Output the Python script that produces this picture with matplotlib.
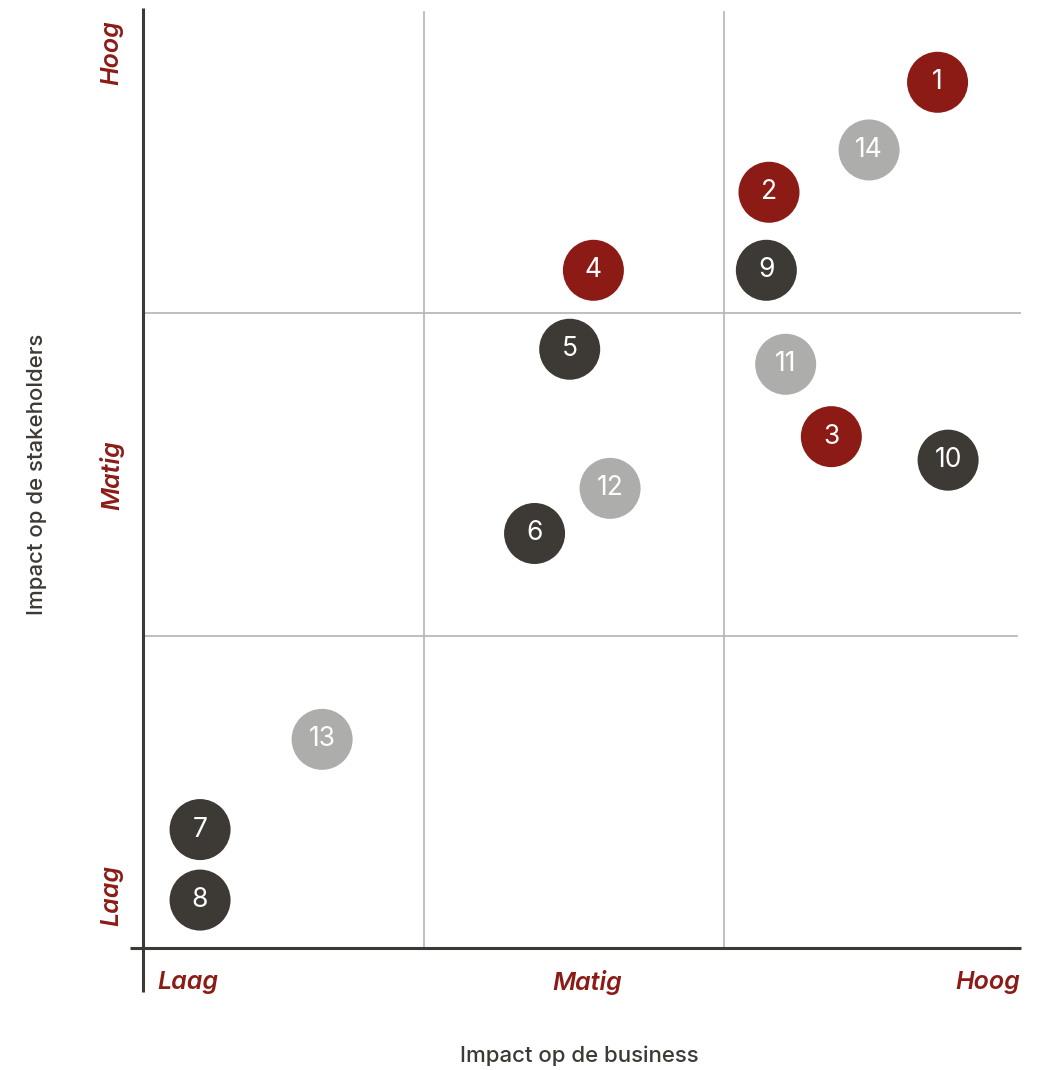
import matplotlib.pyplot as plt

plt.rcParams['font.family'] = ['Inter', 'DejaVu Sans']

# topics: impact on business (x) vs impact on stakeholders (y), scale 0-10
labels = ['1', '2', '3', '4', '5', '6', '7', '8', '9', '10', '11', '12', '13', '14']
business = [9.05, 7.13, 7.84, 5.13, 4.86, 4.46, 0.65, 0.65, 7.10, 9.17, 7.32, 5.32, 2.04, 8.27]
stakeholders = [9.21, 8.04, 5.44, 7.21, 6.37, 4.41, 1.26, 0.51, 7.21, 5.19, 6.21, 4.89, 2.22, 8.49]
groups = ['rood', 'rood', 'rood', 'rood', 'donker', 'donker', 'donker', 'donker',
          'donker', 'donker', 'grijs', 'grijs', 'grijs', 'grijs']

level_names = ['Laag', 'Matig', 'Hoog']
x_splits = [3.2, 6.62]
y_splits = [3.32, 6.76]

RED = '#8c1b16'
DARK = '#3d3935'
GREY = '#adadab'
LINE = '#b4b4b4'
colors = {'rood': RED, 'donker': DARK, 'grijs': GREY}

fig = plt.figure(figsize=(10.4, 10.7), dpi=100)
ax = fig.add_axes([0.1375, 0.114, 0.8442, 0.8785])
ax.set_xlim(0, 10)
ax.set_ylim(0, 10)
ax.axis('off')

# quadrant lines
for xs in x_splits:
    ax.plot([xs, xs], [0, 9.96], color=LINE, lw=1.2, zorder=1)
ax.plot([-0.06, 9.95], [y_splits[0], y_splits[0]], color=LINE, lw=1.2, zorder=1)
ax.plot([0, 10.02], [y_splits[1], y_splits[1]], color=LINE, lw=1.2, zorder=1)

# axes crossing past the origin
ax.plot([0, 0], [-0.47, 10], color=DARK, lw=2.2, clip_on=False, zorder=2,
        solid_capstyle='butt')
ax.plot([-0.15, 10], [0, 0], color=DARK, lw=2.2, clip_on=False, zorder=2,
        solid_capstyle='butt')

ax.scatter(business, stakeholders, s=1930, c=[colors[g] for g in groups],
           linewidths=0, zorder=3, clip_on=False)
for lab, bx, sy in zip(labels, business, stakeholders):
    ax.text(bx, sy, lab, color='white', fontsize=19, ha='center',
            va='center', zorder=4)

# level labels along both axes
lvl = dict(color=RED, fontsize=18, fontweight='semibold', fontstyle='italic')
ax.text(0.16, -0.37, level_names[0], ha='left', va='center', **lvl)
ax.text(5.06, -0.37, level_names[1], ha='center', va='center', **lvl)
ax.text(9.99, -0.37, level_names[2], ha='right', va='center', **lvl)
ax.text(-0.35, 0.56, level_names[0], rotation=90, ha='center', va='center', **lvl)
ax.text(-0.35, 5.03, level_names[1], rotation=90, ha='center', va='center', **lvl)
ax.text(-0.35, 9.53, level_names[2], rotation=90, ha='center', va='center', **lvl)

fig.text(579 / 1040, 1 - 1056 / 1070, 'Impact op de business', color=DARK,
         fontsize=16, fontweight='medium', ha='center', va='center')
fig.text(37 / 1040, 1 - 474 / 1070, 'Impact op de stakeholders', color=DARK,
         fontsize=16, fontweight='medium', rotation=90, ha='center', va='center')

fig.savefig('out.png', dpi=100)
